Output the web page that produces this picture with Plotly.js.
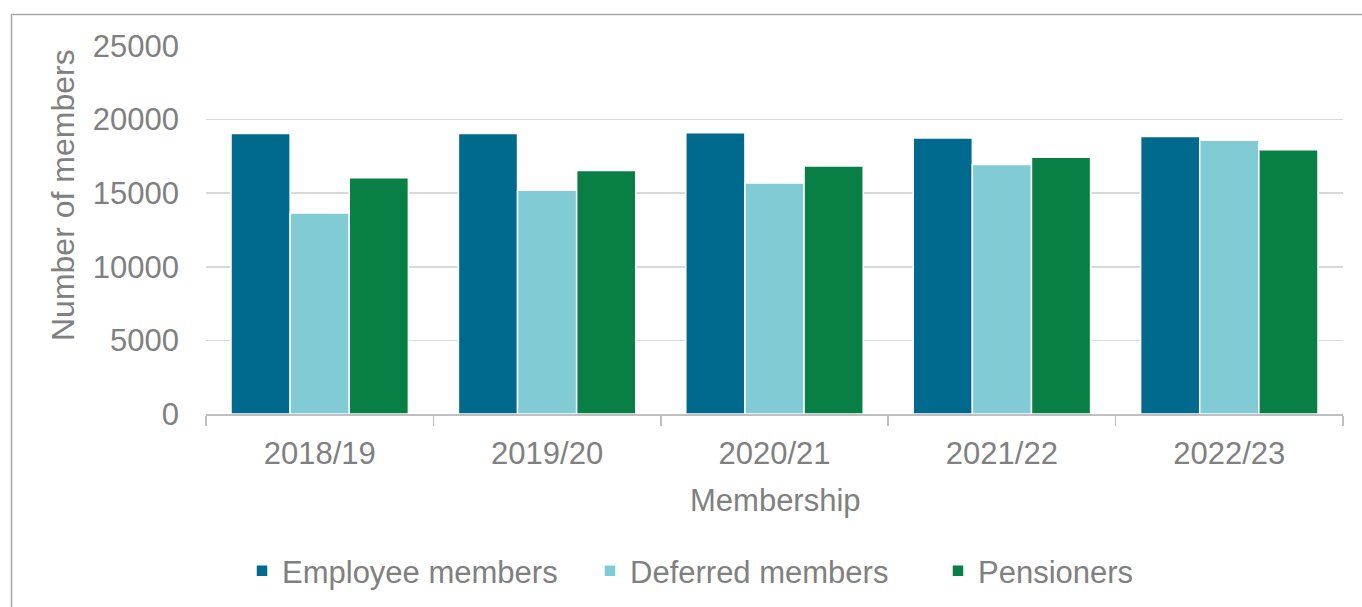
<!DOCTYPE html>
<html>
<head>
<meta charset="utf-8">
<script src="https://cdn.plot.ly/plotly-3.0.1.min.js"></script>
<style>
  html, body { margin: 0; padding: 0; background: #ffffff; }
  #chart { width: 1362px; height: 607px; }
</style>
</head>
<body>
<div id="chart"></div>
<script>
const categories = ["2018/19", "2019/20", "2020/21", "2021/22", "2022/23"];
const employeeMembers = [19050, 19050, 19100, 18750, 18850];
const deferredMembers = [13650, 15200, 15700, 16950, 18600];
const pensioners = [16050, 16550, 16850, 17450, 17950];
const seriesNames = ["Employee members", "Deferred members", "Pensioners"];
const yTicks = [0, 5000, 10000, 15000, 20000, 25000];

const colors = ["#006a8e", "#80cbd4", "#087f45"];
const textColor = "#808080";
const fontFamily = "Liberation Sans, Arial, sans-serif";

const seriesValues = [employeeMembers, deferredMembers, pensioners];
const traces = seriesValues.map((vals, i) => ({
  type: "bar",
  name: seriesNames[i],
  x: categories,
  y: vals,
  marker: { color: colors[i], line: { color: "#ffffff", width: 1.5 } },
  hoverinfo: "x+y+name"
}));

const L = 206, R = 1343, T = 46, B = 414;
const pw = R - L, ph = B - T;
const px = v => (v - L) / pw;
const py = v => (B - v) / ph;

const layout = {
  width: 1362,
  height: 607,
  margin: { l: L, r: 1362 - R, t: T, b: 607 - B, pad: 0, autoexpand: false },
  paper_bgcolor: "#ffffff",
  plot_bgcolor: "#ffffff",
  font: { family: fontFamily, color: textColor, size: 31 },
  barmode: "group",
  bargap: 0.22,
  bargroupgap: 0,
  showlegend: true,
  legend: {
    orientation: "h",
    x: px(242),
    xanchor: "left",
    y: py(571),
    yanchor: "middle",
    font: { size: 31, color: textColor },
    entrywidth: 303,
    entrywidthmode: "pixels",
    itemwidth: 30,
    traceorder: "normal",
    bgcolor: "rgba(0,0,0,0)"
  },
  xaxis: {
    type: "category",
    automargin: false,
    showgrid: false,
    showline: true,
    linecolor: "#bfbfbf",
    linewidth: 1.5,
    ticks: "outside",
    tickson: "boundaries",
    ticklen: 10,
    tickcolor: "#bfbfbf",
    tickwidth: 1.5,
    ticklabelstandoff: 11,
    tickfont: { size: 31, color: textColor },
    zeroline: false,
    fixedrange: true
  },
  yaxis: {
    range: [0, 25000],
    automargin: false,
    tickvals: yTicks,
    ticktext: yTicks.map(String),
    showgrid: true,
    gridcolor: "#d9d9d9",
    gridwidth: 1.5,
    showline: false,
    zeroline: false,
    ticks: "",
    ticklabelstandoff: 26,
    tickfont: { size: 31, color: textColor },
    fixedrange: true
  },
  annotations: [
    {
      text: "Number of members",
      xref: "paper", yref: "paper",
      x: px(63), y: py(195),
      xanchor: "center", yanchor: "middle",
      textangle: -90,
      showarrow: false,
      font: { size: 32, color: textColor }
    },
    {
      text: "Membership",
      xref: "paper", yref: "paper",
      x: px(775), y: py(500),
      xanchor: "center", yanchor: "middle",
      showarrow: false,
      font: { size: 31, color: textColor }
    }
  ],
  shapes: [
    {
      type: "rect",
      xref: "paper", yref: "paper",
      x0: px(11.5), x1: px(1375),
      y0: py(14.5), y1: py(620),
      line: { color: "#a6a6a6", width: 1.5 },
      fillcolor: "rgba(0,0,0,0)",
      layer: "below"
    }
  ]
};

Plotly.newPlot("chart", traces, layout, { displayModeBar: false, staticPlot: true });
</script>
</body>
</html>
